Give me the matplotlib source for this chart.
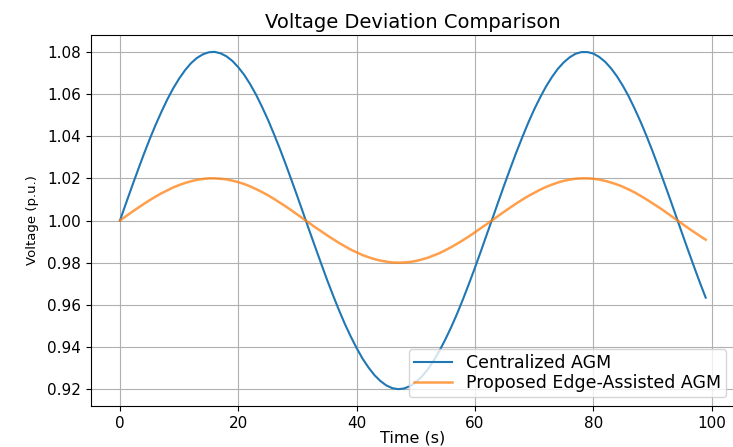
import matplotlib
matplotlib.use('Agg')
import matplotlib.pyplot as plt

# time axis (s)
time_s = list(range(100))

# centralized AGM voltage (p.u.)
centralized = [
    1.0000, 1.0080, 1.0159, 1.0236, 1.0312, 1.0384, 1.0452, 1.0515, 1.0574, 1.0627,
    1.0673, 1.0713, 1.0746, 1.0771, 1.0788, 1.0798, 1.0800, 1.0793, 1.0779, 1.0757,
    1.0727, 1.0691, 1.0647, 1.0597, 1.0540, 1.0479, 1.0412, 1.0342, 1.0268, 1.0191,
    1.0113, 1.0033, 0.9953, 0.9874, 0.9796, 0.9719, 0.9646, 0.9576, 0.9510, 0.9450,
    0.9395, 0.9345, 0.9303, 0.9267, 0.9239, 0.9218, 0.9205, 0.9200, 0.9203, 0.9214,
    0.9233, 0.9259, 0.9293, 0.9334, 0.9382, 0.9436, 0.9495, 0.9559, 0.9628, 0.9701,
    0.9776, 0.9854, 0.9934, 1.0013, 1.0093, 1.0172, 1.0249, 1.0324, 1.0395, 1.0463,
    1.0526, 1.0583, 1.0635, 1.0680, 1.0719, 1.0750, 1.0774, 1.0791, 1.0799, 1.0799,
    1.0792, 1.0776, 1.0753, 1.0722, 1.0684, 1.0639, 1.0588, 1.0530, 1.0468, 1.0401,
    1.0330, 1.0255, 1.0178, 1.0100, 1.0020, 0.9940, 0.9861, 0.9783, 0.9707, 0.9634,
]

# proposed edge-assisted AGM voltage (p.u.)
edge_assisted = [
    1.0000, 1.0020, 1.0040, 1.0059, 1.0078, 1.0096, 1.0113, 1.0129, 1.0143, 1.0157,
    1.0168, 1.0178, 1.0186, 1.0193, 1.0197, 1.0200, 1.0200, 1.0198, 1.0195, 1.0189,
    1.0182, 1.0173, 1.0162, 1.0149, 1.0135, 1.0120, 1.0103, 1.0085, 1.0067, 1.0048,
    1.0028, 1.0008, 0.9988, 0.9968, 0.9949, 0.9930, 0.9912, 0.9894, 0.9878, 0.9862,
    0.9849, 0.9836, 0.9826, 0.9817, 0.9810, 0.9805, 0.9801, 0.9800, 0.9801, 0.9803,
    0.9808, 0.9815, 0.9823, 0.9834, 0.9845, 0.9859, 0.9874, 0.9890, 0.9907, 0.9925,
    0.9944, 0.9964, 0.9983, 1.0003, 1.0023, 1.0043, 1.0062, 1.0081, 1.0099, 1.0116,
    1.0131, 1.0146, 1.0159, 1.0170, 1.0180, 1.0188, 1.0194, 1.0198, 1.0200, 1.0200,
    1.0198, 1.0194, 1.0188, 1.0180, 1.0171, 1.0160, 1.0147, 1.0133, 1.0117, 1.0100,
    1.0082, 1.0064, 1.0045, 1.0025, 1.0005, 0.9985, 0.9965, 0.9946, 0.9927, 0.9909,
]

fig = plt.figure(figsize=(7.33, 4.47), dpi=100)
# axes runs slightly past the right edge, like the cropped original
ax = fig.add_axes([0.1237, 0.0917, 0.879, 0.830])

ax.plot(time_s, centralized, color='#1f77b4', linewidth=1.5, label='Centralized AGM')
ax.plot(time_s, edge_assisted, color='#ff7f0e', linewidth=1.8, alpha=0.75,
        label='Proposed Edge-Assisted AGM')

ax.set_title('Voltage Deviation Comparison', fontsize=14, pad=5)
ax.set_xlabel('Time (s)', fontsize=11.5, labelpad=0)
ax.set_ylabel('Voltage (p.u.)', fontsize=9.5, labelpad=6)
ax.set_xticks([0, 20, 40, 60, 80, 100])
ax.set_yticks([0.92, 0.94, 0.96, 0.98, 1.00, 1.02, 1.04, 1.06, 1.08])
ax.tick_params(labelsize=11)
ax.grid(True)
ax.legend(loc='lower right', fontsize=12.5, labelspacing=0.1, borderpad=0.3,
          handlelength=2.2)

plt.savefig('out.png', dpi=100)
plt.close()
